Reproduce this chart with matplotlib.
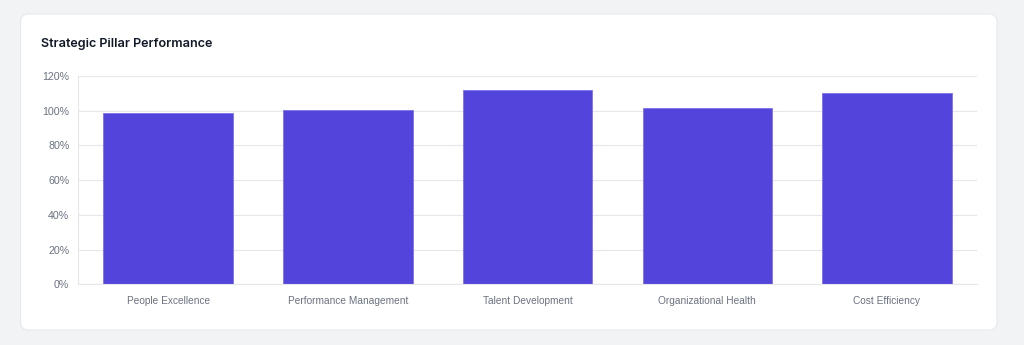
import matplotlib.pyplot as plt
from matplotlib.patches import FancyBboxPatch
from matplotlib.ticker import FuncFormatter
from matplotlib.transforms import IdentityTransform

# Data
categories = ['People Excellence', 'Performance Management', 'Talent Development',
              'Organizational Health', 'Cost Efficiency']
performance = [98.9, 100.6, 111.8, 101.7, 110.2]
y_ticks = [0, 20, 40, 60, 80, 100, 120]

BAR_COLOR = '#5344dc'
GRID_COLOR = '#e6e7eb'
TICK_COLOR = '#6b7280'

fig = plt.figure(figsize=(10.24, 3.45), dpi=100)
fig.patch.set_facecolor('#f2f3f5')

# White card behind the chart (display pixels)
card = FancyBboxPatch((20.5, 15), 976.5, 316,
                      boxstyle='round,pad=0,rounding_size=8',
                      transform=IdentityTransform(), facecolor='white',
                      edgecolor='#e8e9ed', linewidth=0.8, zorder=-5)
fig.patches.append(card)

fig.text(41 / 1024, 1 - 44.5 / 345, 'Strategic Pillar Performance',
         fontsize=9.1, fontweight='semibold', family='Inter',
         color='#111827', va='center', ha='left')

ax = fig.add_axes([0.0765, 0.176, 0.8773, 0.6038])
ax.set_facecolor('none')
ax.set_zorder(1)

x = range(len(categories))
ax.bar(x, performance, width=0.72, color=BAR_COLOR,
       edgecolor='#7d72ea', linewidth=0.6, zorder=2)

ax.set_xlim(-0.5, len(categories) - 0.5)
ax.set_ylim(0, 120)
ax.set_yticks(y_ticks)
ax.yaxis.set_major_formatter(FuncFormatter(lambda v, p: f'{int(v)}%'))
ax.set_xticks(list(x))
ax.set_xticklabels(categories)

# Grid and spines
ax.grid(axis='y', color=GRID_COLOR, linewidth=0.8, zorder=0)
ax.grid(axis='x', visible=False)
for side in ['top', 'right']:
    ax.spines[side].set_visible(False)
ax.spines['left'].set_color(GRID_COLOR)
ax.spines['bottom'].set_color(GRID_COLOR)
ax.spines['left'].set_linewidth(0.8)
ax.spines['bottom'].set_linewidth(0.8)

ax.tick_params(axis='y', length=0, pad=6.5, labelsize=7.7, labelcolor=TICK_COLOR)
ax.tick_params(axis='x', length=0, pad=8.5, labelsize=7.3, labelcolor=TICK_COLOR)
for lbl in ax.get_xticklabels() + ax.get_yticklabels():
    lbl.set_family('Liberation Sans')

fig.savefig('out.png', dpi=100, facecolor=fig.get_facecolor())
